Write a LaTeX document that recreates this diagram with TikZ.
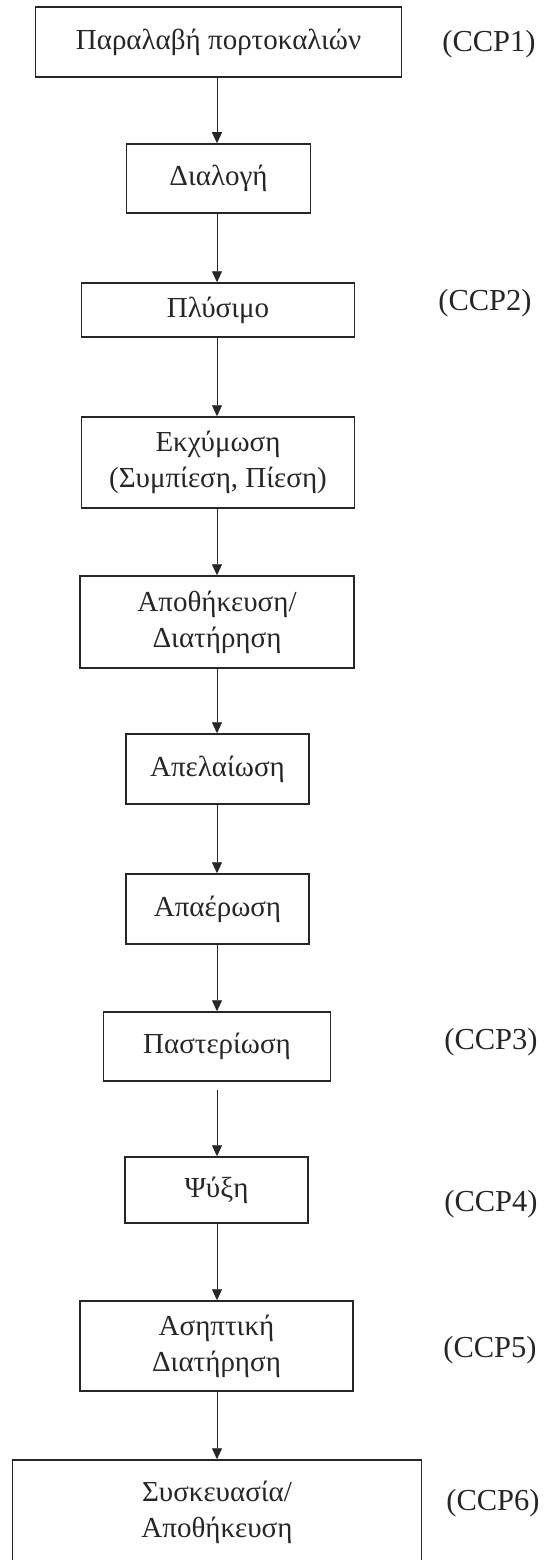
\documentclass[tikz,border=0pt]{standalone}
\usepackage{fontspec}
\setmainfont{Liberation Serif}
\usetikzlibrary{arrows.meta}
\tikzset{
  box/.style={draw=black!85, line width=1.5pt, inner sep=0pt, align=center,
    font=\fontsize{29}{36}\selectfont, text=black!85},
  ccp/.style={inner sep=0pt, font=\fontsize{30.5}{34}\selectfont, text=black!85},
  flow/.style={draw=black!85, line width=0.9pt, -{Triangle[length=11pt,width=10pt]}}
}
\begin{document}
\begin{tikzpicture}[x=1pt,y=-1pt]
\useasboundingbox (0,0) rectangle (548,1560);
\clip (0,0) rectangle (548,1560);
\node[box, minimum width=366pt, minimum height=70pt] (b1) at (218.5,42) {Παραλαβή πορτοκαλιών};
\node[box, minimum width=184pt, minimum height=69pt] (b2) at (218.5,178.5) {Διαλογή};
\node[box, minimum width=273pt, minimum height=54pt] (b3) at (218,310) {Πλύσιμο};
\node[box, minimum width=273pt, minimum height=91pt] (b4) at (218,462.5) {Εκχύμωση\\(Συμπίεση, Πίεση)};
\node[box, minimum width=274pt, minimum height=92pt] (b5) at (217,622) {Αποθήκευση/\\Διατήρηση};
\node[box, minimum width=183pt, minimum height=70pt] (b6) at (217.5,769) {Απελαίωση};
\node[box, minimum width=183pt, minimum height=70pt] (b7) at (217.5,909) {Απαέρωση};
\node[box, minimum width=227pt, minimum height=69pt] (b8) at (217,1046.5) {Παστερίωση};
\node[box, minimum width=183pt, minimum height=66pt] (b9) at (216.5,1190) {Ψύξη};
\node[box, minimum width=273pt, minimum height=90pt] (b10) at (216.5,1346) {Ασηπτική\\Διατήρηση};
\node[box, minimum width=409pt, minimum height=104pt] (b11) at (217,1512) {Συσκευασία/\\Αποθήκευση};

\node[ccp] (c1) at (489,44) {(CCP1)};
\node[ccp] (c2) at (485,303) {(CCP2)};
\node[ccp] (c3) at (491,1042) {(CCP3)};
\node[ccp] (c4) at (491,1204) {(CCP4)};
\node[ccp] (c5) at (490,1350) {(CCP5)};
\node[ccp] (c6) at (493,1503) {(CCP6)};

\draw[flow] (b1.south -| 217,0) -- (b2.north -| 217,0);
\draw[flow] (b2.south -| 217,0) -- (b3.north -| 217,0);
\draw[flow] (b3.south -| 217,0) -- (b4.north -| 217,0);
\draw[flow] (b4.south -| 217,0) -- (b5.north -| 217,0);
\draw[flow] (b5.south -| 217,0) -- (b6.north -| 217,0);
\draw[flow] (b6.south -| 217,0) -- (b7.north -| 217,0);
\draw[flow] (b7.south -| 217,0) -- (b8.north -| 217,0);
\draw[flow, shorten <=8pt] (b8.south -| 217,0) -- (b9.north -| 217,0);
\draw[flow] (b9.south -| 217,0) -- (b10.north -| 217,0);
\draw[flow] (b10.south -| 217,0) -- (b11.north -| 217,0);
\end{tikzpicture}
\end{document}
